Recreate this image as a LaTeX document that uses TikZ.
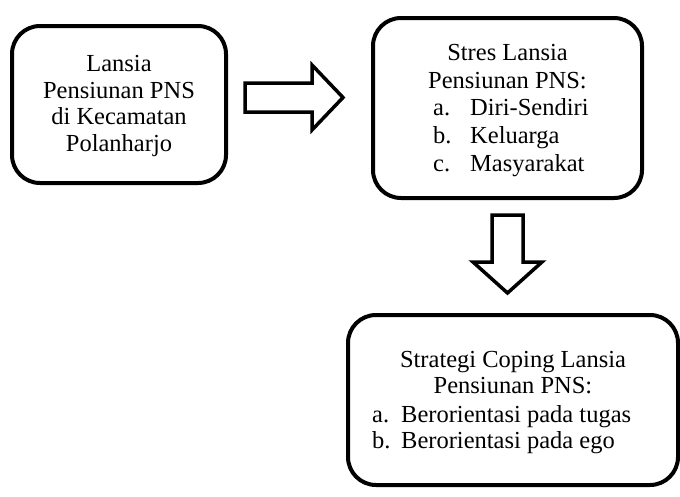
\documentclass[tikz,border=0pt]{standalone}
\usepackage{fontspec}
\setmainfont{Liberation Serif}
\usetikzlibrary{positioning}

\begin{document}
\begin{tikzpicture}[x=1pt, y=-1pt,
  box/.style={draw=black, line width=4pt, rounded corners=28pt, inner sep=0pt, outer sep=0pt},
  txt/.style={inner sep=0pt, font=\fontsize{24.5}{28}\selectfont},
  blockarrow/.style={draw=black, line width=3.5pt, fill=white, line join=miter}]
  \useasboundingbox (0,0) rectangle (680,496);

  % boxes
  \node[box, minimum width=214pt, minimum height=157pt] (lansia) at (119,104.5) {};
  \node[box, minimum width=269pt, minimum height=180pt] (stres) at (507.5,108) {};
  \node[box, minimum width=330pt, minimum height=170pt] (coping) at (513,400) {};

  % texts
  \foreach \line [count=\i] in {Lansia, Pensiunan PNS, di Kecamatan, Polanharjo}
    \node[txt, anchor=base] (lansia-\i) at (119, 45+26.5*\i) {\line};

  \node[txt, anchor=base] (stres-1) at (507.5,60) {Stres Lansia};
  \node[txt, anchor=base] (stres-2) at (507.5,88) {Pensiunan PNS:};
  \foreach \lbl/\item [count=\i] in {a./Diri-Sendiri, b./Keluarga, c./Masyarakat} {
    \node[txt, anchor=base west] at (433, 87+28*\i) {\lbl};
    \node[txt, anchor=base west] at (470, 87+28*\i) {\item};
  }

  \node[txt, anchor=base] (coping-1) at (513,367) {Strategi Coping Lansia};
  \node[txt, anchor=base] (coping-2) at (513,393) {Pensiunan PNS:};
  \foreach \lbl/\item [count=\i] in {a./Berorientasi pada tugas, b./Berorientasi pada ego} {
    \node[txt, anchor=base west] at (372, 396+26*\i) {\lbl};
    \node[txt, anchor=base west] at (401, 396+26*\i) {\item};
  }

  % block arrows
  \draw[blockarrow] (245,83) -- (312,83) -- (312,65) -- (343,97.5)
    -- (312,130) -- (312,112) -- (245,112) -- cycle;
  \draw[blockarrow] (492,215) -- (523,215) -- (523,262) -- (542,262)
    -- (507.5,293) -- (473,262) -- (492,262) -- cycle;
\end{tikzpicture}
\end{document}
